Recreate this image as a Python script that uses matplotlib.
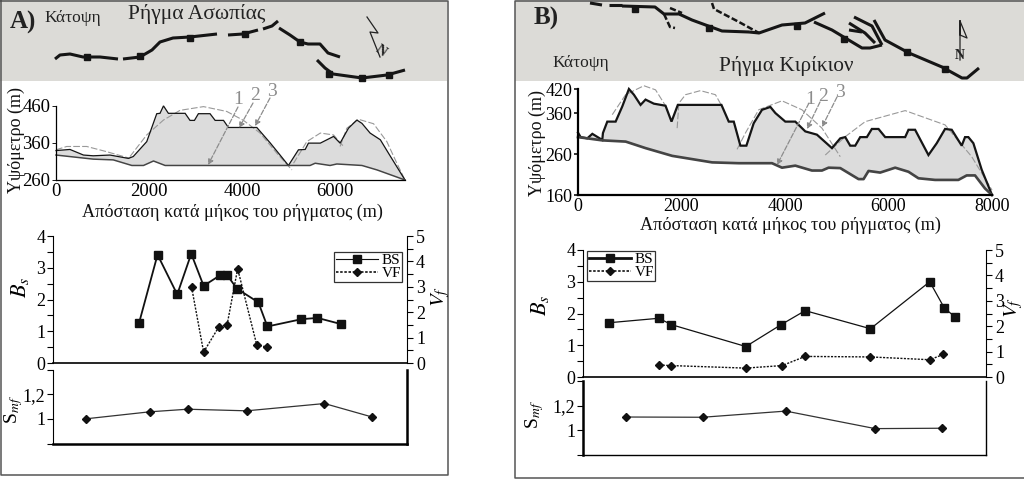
import numpy as np
import matplotlib
matplotlib.use("Agg")
import matplotlib.pyplot as plt
from matplotlib.lines import Line2D

plt.rcParams['font.family'] = ['Liberation Serif', 'DejaVu Serif']
plt.rcParams['mathtext.fontset'] = 'stix'

W, H = 1024, 479
GREY = '#dcdbd7'
FILL = '#dcdcdc'
DASH = '#8c8c8c'

# profil A
a_top_x = [0, 300, 590, 800, 1160, 1555, 1660, 1950, 2165, 2235, 2310, 2415, 2775, 2880, 2975, 3060, 3310, 3420, 3600, 3705,
           4315, 4600, 4815, 4995, 5210, 5355, 5425, 5680, 5965, 6105, 6285, 6465, 6575, 6750, 6970, 7145, 7500]
a_top_y = [339, 342, 327, 325, 327, 318, 323, 363, 438, 439, 459, 439, 439, 420, 420, 438, 438, 420, 420, 401,
           401, 360, 327, 299, 341, 342, 359, 359, 377, 359, 399, 421, 412, 386, 368, 332, 260]
a_bot_x = [0, 800, 1230, 1630, 1880, 2095, 2345, 5460, 5570, 5890, 6035, 6575, 6900, 7500]
a_bot_y = [327, 316, 314, 299, 299, 311, 299, 299, 305, 299, 303, 299, 287, 260]
a_env = [
    ([0, 230, 660, 1090, 1590], [341, 350, 350, 336, 318]),
    ([1590, 1950, 2310, 2665, 3170, 3670, 4030, 4385, 4745, 5070], [323, 381, 421, 447, 457, 444, 420, 386, 332, 287]),
    ([5105, 5390, 5680, 5965, 6180], [305, 363, 386, 381, 350]),
    ([6105, 6250, 6500, 6825, 7110, 7325, 7500], [350, 399, 423, 411, 363, 305, 260]),
]

# profil B
b_top_x = [0, 51, 180, 277, 469, 482, 566, 727, 855, 984, 1080, 1209, 1305, 1466, 1691, 1807, 1929, 2772, 2913, 3010, 3138, 3254,
           3395, 3556, 3717, 3814, 4006, 4199, 4392, 4617, 4907, 5068, 5164, 5260, 5357, 5453, 5582, 5678, 5807, 5936, 6322,
           6386, 6514, 6772, 6932, 7093, 7222, 7415, 7479, 7543, 7640, 7801, 8000]
b_top_y = [313, 302, 299, 310, 295, 312, 340, 340, 377, 420, 406, 381, 394, 384, 379, 340, 381, 381, 340, 340, 281, 281,
           336, 369, 376, 361, 340, 340, 316, 308, 275, 299, 302, 281, 281, 302, 302, 322, 322, 302, 302,
           320, 320, 258, 287, 322, 320, 281, 302, 302, 287, 222, 160]
b_bot_x = [0, 469, 921, 1305, 1820, 2591, 3106, 3749, 3942, 4199, 4521, 4714, 4842, 5068, 5421, 5518, 5614, 5839, 6129, 6386,
           6579, 6900, 7350, 7511, 7672, 7865, 8000]
b_bot_y = [302, 294, 291, 275, 256, 240, 238, 238, 227, 232, 220, 220, 227, 226, 199, 199, 219, 215, 227, 217,
           201, 197, 197, 208, 208, 176, 160]
b_env = [
    ([662, 920, 1273, 1498, 1691], [357, 406, 428, 418, 379]),
    ([1916, 1949, 2077, 2366, 2656, 2785], [324, 385, 406, 416, 406, 377]),
    ([3074, 3235, 3492, 3942, 4328, 4714, 5068], [272, 312, 369, 391, 369, 324, 254]),
    ([4778, 5164, 5550, 6322, 7093, 7608, 8000], [258, 303, 340, 367, 332, 254, 172]),
]

# Bs, Vf, Smf
a_bs_x = [1825, 2215, 2632, 2929, 3191, 3537, 3693, 3898, 4351, 4542, 5264, 5603, 6092]
a_bs = [1.27, 3.41, 2.16, 3.44, 2.43, 2.76, 2.76, 2.34, 1.91, 1.15, 1.38, 1.42, 1.23]
a_vf_x = [2936, 3191, 3516, 3686, 3912, 4316, 4542]
a_vf = [2.99, 0.43, 1.43, 1.48, 3.71, 0.72, 0.62]
a_smf_x = [693, 2052, 2851, 4104, 5752, 6750]
a_smf = [1.0, 1.057, 1.078, 1.065, 1.124, 1.016]

b_bs_x = [522, 1507, 1752, 3233, 3934, 4410, 5706, 6883, 7174, 7379]
b_bs = [1.71, 1.85, 1.65, 0.96, 1.65, 2.09, 1.52, 3.0, 2.17, 1.9]
b_vf_x = [1514, 1752, 3227, 3954, 4410, 5706, 6883, 7154]
b_vf = [0.47, 0.45, 0.35, 0.45, 0.81, 0.79, 0.68, 0.89]
b_smf_x = [846, 2374, 4027, 5799, 7121]
b_smf = [1.108, 1.106, 1.156, 1.014, 1.017]

# ixni rigmatos stin katopsi (pixel)
a_traces = [
    [(55, 59), (60, 55), (70, 54), (83, 57), (100, 57), (118, 59)],
    [(123, 59), (140, 57), (152, 50), (160, 42), (173, 38), (190, 37), (217, 34)],
    [(228, 35), (243, 34), (258, 30)],
    [(263, 29), (272, 26), (278, 21)],
    [(279, 28), (290, 35), (300, 42), (308, 44), (320, 44), (328, 53), (340, 57)],
    [(317, 60), (325, 68), (333, 74), (362, 78), (387, 75), (405, 70)],
]
a_sq_x = [87, 140, 190, 245, 300, 329, 362, 389]
a_sq_y = [57, 56, 38, 34, 42, 74, 78, 75]
b_traces = [
    [(590, 3), (602, 5)],
    [(609, 5), (622, 5)],
    [(622, 6), (655, 7), (664, 14), (679, 14), (692, 20), (722, 31), (749, 32)],
    [(749, 32), (759, 33), (782, 25), (805, 23), (825, 13)],
    [(814, 22), (832, 30), (862, 48), (870, 48), (882, 45)],
    [(854, 17), (872, 26), (882, 45)],
    [(849, 23), (865, 33), (875, 43)],
    [(849, 30), (862, 32)],
    [(874, 20), (885, 40), (909, 53), (942, 67), (962, 78), (967, 78), (979, 68)],
]
b_dash = [
    [(664, 14), (670, 27), (675, 28)],
    [(670, 8), (682, 13)],
    [(712, 3), (714, 9), (739, 22), (759, 33)],
]
b_sq_x = [635, 709, 797, 844, 907, 945]
b_sq_y = [9, 28, 26, 39, 52, 69]
a_north = [(367, 17), (378, 33), (370, 32), (380, 57)]
b_north = [(960, 21), (967, 38), (960, 35), (960, 21), (960, 60)]

# strokes 1 2 3 (pixel)
a_arrows = [((238, 107), (208, 165)), ((253, 103), (239, 128)), ((270, 98), (255, 126))]
b_arrows = [((809, 103), (777, 165)), ((820, 102), (807, 129)), ((837, 97), (822, 127))]
a_nums = [(238, 99), (255, 95), (272, 91)]
b_nums = [(810, 99), (823, 96), (840, 92)]


def add_ax(fig, left, top, right, bottom):
    return fig.add_axes([left / W, 1 - bottom / H, (right - left) / W, (bottom - top) / H])


def profile(fig, box, xt, yt, xmax, ymin, ymax, top, bot, env, lw, tick_fs):
    ax = add_ax(fig, *box)
    ax.fill(list(top[0]) + list(bot[0])[::-1], list(top[1]) + list(bot[1])[::-1], color=FILL, lw=0)
    for ex, ey in env:
        ax.plot(ex, ey, color='#999999', lw=0.8, ls=(0, (6, 2)), clip_on=False)
    ax.plot(top[0], top[1], color='#151515', lw=lw, solid_joinstyle='miter', clip_on=False)
    ax.plot(bot[0], bot[1], color='#444444', lw=lw * 1.2, clip_on=False)
    ax.set_xlim(0, xmax)
    ax.set_ylim(ymin, ymax)
    ax.set_xticks(xt)
    ax.set_yticks(yt)
    ax.tick_params(labelsize=tick_fs, length=3, width=lw * 0.7, pad=1)
    ax.tick_params(axis='x', length=0, pad=2)
    ax.spines[['top', 'right']].set_visible(False)
    ax.spines[['left', 'bottom']].set_linewidth(lw)
    ax.patch.set_visible(False)
    return ax


def indices(fig, box, smf_box, xmax, bs, vf, smf, leg_anchor, bs_lw, leg_lw, spine_w):
    ax = add_ax(fig, *box)
    ax.plot(bs[0], bs[1], color='#111111', lw=bs_lw, marker='s', ms=5.6, clip_on=False)
    ax.set_xlim(0, xmax)
    ax.set_ylim(0, 4)
    ax.set_yticks(range(5))
    ax.set_yticks(np.arange(0.5, 4, 1), minor=True)
    ax.set_xticks([])
    ax.tick_params(axis='y', which='both', length=4.5, width=0.8, labelsize=13, pad=1)
    ax.spines['top'].set_visible(False)
    ax.spines['right'].set_visible(False)
    ax.spines['bottom'].set_linewidth(1.2)
    ax.patch.set_visible(False)

    ax2 = ax.twinx()
    ax2.plot(vf[0], vf[1], color='#111111', lw=1.0, ls=(0, (1.5, 1)), marker='D', ms=3.8, clip_on=False)
    ax2.set_ylim(0, 5)
    ax2.set_yticks(range(6))
    ax2.set_yticks(np.arange(0.5, 5, 1), minor=True)
    ax2.tick_params(axis='y', which='both', length=4.5, width=0.8, labelsize=13, pad=2)
    ax2.spines[['top', 'left', 'bottom']].set_visible(False)
    ax2.patch.set_visible(False)

    handles = [
        Line2D([], [], color='#111111', lw=leg_lw, marker='s', ms=5.2),
        Line2D([], [], color='#111111', lw=1.2, ls=(0, (1.5, 1)), marker='D', ms=3.8),
    ]
    leg = ax2.legend(handles, ['BS', 'VF'], loc='upper left', bbox_to_anchor=leg_anchor, fontsize=11,
                     fancybox=False, edgecolor='#333333', framealpha=1, borderpad=0.1, labelspacing=-0.05,
                     handlelength=2.8, handletextpad=0.2, borderaxespad=0)
    leg.get_frame().set_linewidth(0.9)

    ax3 = add_ax(fig, *smf_box)
    ax3.plot(smf[0], smf[1], color='#333333', lw=0.9, marker='D', ms=4.2, mfc='#111111', mec='#111111', clip_on=False)
    ax3.set_xlim(0, xmax)
    ax3.set_ylim(0.8, 1.4)
    ax3.set_xticks([])
    ax3.set_yticks([0.8, 1.0, 1.2, 1.4])
    ax3.set_yticklabels(['', '1', '1,2', ''])
    ax3.tick_params(axis='y', length=4.5, width=0.8, labelsize=13, pad=1)
    ax3.spines['top'].set_visible(False)
    ax3.spines['left'].set_linewidth(spine_w[0])
    ax3.spines['right'].set_linewidth(spine_w[1])
    ax3.spines['bottom'].set_linewidth(spine_w[2])
    ax3.patch.set_visible(False)


def draw_map(ov, traces, dashed, sq_x, sq_y):
    for tr in traces:
        ov.plot(*zip(*tr), color='#151515', lw=2.2, solid_capstyle='butt')
    for tr in dashed:
        ov.plot(*zip(*tr), color='#151515', lw=1.8, ls=(0, (2.5, 1)))
    ov.plot(sq_x, sq_y, ls='', marker='s', ms=4.5, color='#151515')


def draw_arrows(ov, arrows, nums):
    for (p0, p1) in arrows:
        ov.annotate('', xy=p1, xytext=p0,
                    arrowprops=dict(arrowstyle='-|>', color=DASH, lw=0.9, ls=(0, (4, 1.5)), shrinkA=0, shrinkB=0, mutation_scale=8))
    for (i, (x, y)) in enumerate(nums):
        ov.text(x, y, str(i + 1), color=DASH, fontsize=14, ha='center', va='center')


fig = plt.figure(figsize=(W / 100, H / 100), dpi=100, facecolor='white')

profile(fig, (56, 105.5, 405, 180), [0, 2000, 4000, 6000], [260, 360, 460], 7500, 260, 460,
        (a_top_x, a_top_y), (a_bot_x, a_bot_y), a_env, 0.9, 13.5)
profile(fig, (578, 89, 992, 195), [0, 2000, 4000, 6000, 8000], [160, 260, 360, 420], 8000, 160, 420,
        (b_top_x, b_top_y), (b_bot_x, b_bot_y), b_env, 1.6, 13)

indices(fig, (53, 236, 407, 363), (53, 369.5, 407, 443.5), 7500,
        (a_bs_x, a_bs), (a_vf_x, a_vf), (a_smf_x, a_smf), (0.794, 0.875), 1.3, 0.8, (0.8, 1.8, 1.8))
indices(fig, (583, 250, 986, 377), (583, 381, 986, 455), 8000,
        (b_bs_x, b_bs), (b_vf_x, b_vf), (b_smf_x, b_smf), (0.01, 0.99), 0.9, 2.0, (1.8, 1.0, 1.0))

# overlay se pixel gia katopsi, plaisia kai keimena
ov = fig.add_axes([0, 0, 1, 1], zorder=10)
ov.set_xlim(0, W)
ov.set_ylim(H, 0)
ov.axis('off')
ov.patch.set_visible(False)

ov.fill_between([0, 447], 0, 81, color=GREY, lw=0, zorder=0)
ov.fill_between([515, 1024], 0, 81, color=GREY, lw=0, zorder=0)
ov.plot([0.5, 447.5, 447.5, 0.5, 0.5], [0.5, 0.5, 475, 475, 0.5], color='#555555', lw=1.1)
ov.plot([1024, 515, 515, 1024], [0.5, 0.5, 478, 478], color='#555555', lw=1.1)

draw_map(ov, a_traces, [], a_sq_x, a_sq_y)
draw_map(ov, b_traces, b_dash, b_sq_x, b_sq_y)
ov.plot(*zip(*a_north), color='#222222', lw=0.9)
ov.plot(*zip(*b_north), color='#222222', lw=0.9)
ov.text(381, 51, 'N', fontsize=10, fontweight='bold', rotation=-35, ha='center', va='center', color='#222222')
ov.text(960, 55, 'N', fontsize=10, fontweight='bold', ha='center', va='center', color='#222222')

draw_arrows(ov, a_arrows, a_nums)
draw_arrows(ov, b_arrows, b_nums)

ov.text(10, 22, 'A)', fontsize=18, fontweight='bold', va='center', color='#222222')
ov.text(534, 18, 'B)', fontsize=18, fontweight='bold', va='center', color='#222222')
ov.text(44, 18, 'Κάτοψη', fontsize=12.5, va='center', color='#222222')
ov.text(552, 63, 'Κάτοψη', fontsize=12.5, va='center', color='#222222')
ov.text(128, 14, 'Ρήγμα Ασωπίας', fontsize=15.5, va='center', color='#222222')
ov.text(719, 66, 'Ρήγμα Κιρίκιον', fontsize=15.3, va='center', color='#222222')
ov.text(232, 212, 'Απόσταση κατά μήκος του ρήγματος (m)', fontsize=13.1, ha='center', va='center', color='#111111')
ov.text(790, 225, 'Απόσταση κατά μήκος του ρήγματος (m)', fontsize=13.1, ha='center', va='center', color='#111111')
ov.text(16, 140, 'Υψόμετρο (m)', fontsize=13, rotation=90, ha='center', va='center', color='#111111')
ov.text(537, 143, 'Υψόμετρο (m)', fontsize=13, rotation=90, ha='center', va='center', color='#111111')

ov.text(20, 287, r'$B_s$', fontsize=16, rotation=90, ha='center', va='center')
ov.text(14, 410, r'S$_{mf}$', fontsize=14, rotation=90, ha='center', va='center')
ov.text(441, 297, r'$V_f$', fontsize=15, rotation=90, ha='center', va='center')
ov.text(540, 305, r'$B_s$', fontsize=16, rotation=90, ha='center', va='center')
ov.text(535, 415, r'S$_{mf}$', fontsize=14, rotation=90, ha='center', va='center')
ov.text(1014, 308, r'$V_f$', fontsize=15, rotation=90, ha='center', va='center')

fig.savefig('out.png', dpi=100)
